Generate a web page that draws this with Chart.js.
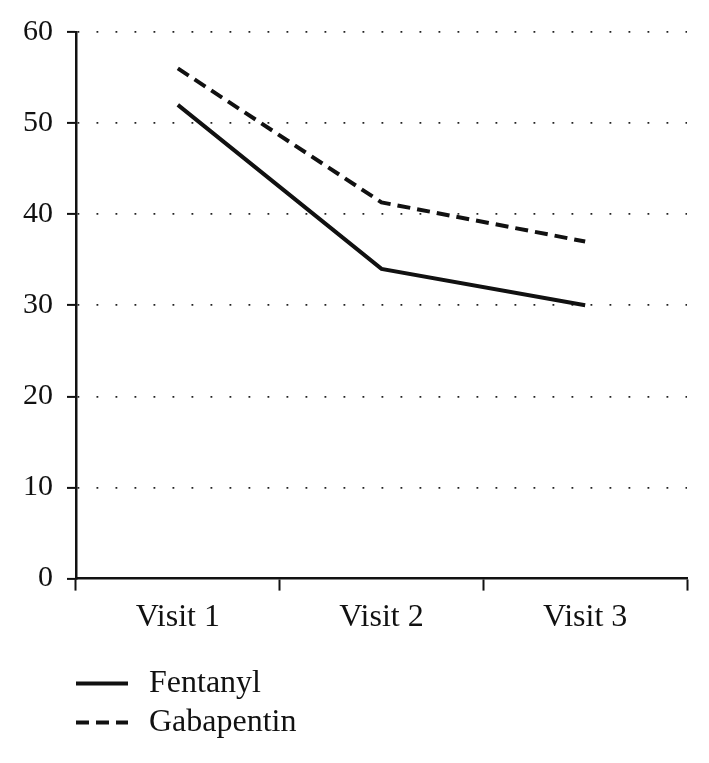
<!DOCTYPE html>
<html>
<head>
<meta charset="utf-8">
<script src="https://cdn.jsdelivr.net/npm/chart.js@4/dist/chart.umd.min.js"></script>
<style>
  body { margin: 0; background: #fff; }
  #wrap { width: 709px; height: 763px; position: relative; }
</style>
</head>
<body>
<div id="wrap"><canvas id="line-chart"></canvas></div>
<script>
const visits = ['Visit 1', 'Visit 2', 'Visit 3'];
const fentanyl = [52, 34, 30];
const gabapentin = [56, 41.3, 37];
const yTicks = [0, 10, 20, 30, 40, 50, 60];

const serif = "'Liberation Serif', 'Times New Roman', serif";

// legend drawn as stacked rows under the x axis, like the original
const stackedLegend = {
    id: 'stackedLegend',
    afterDraw(chart) {
        const ctx = chart.ctx;
        const left = chart.chartArea.left;
        let y = chart.chartArea.bottom + 105;
        ctx.save();
        chart.data.datasets.forEach(ds => {
            ctx.beginPath();
            ctx.setLineDash(ds.borderDash || []);
            ctx.lineWidth = ds.borderWidth;
            ctx.strokeStyle = ds.borderColor;
            ctx.moveTo(left, y);
            ctx.lineTo(left + 52, y);
            ctx.stroke();
            ctx.setLineDash([]);
            ctx.fillStyle = '#111';
            ctx.font = '32px ' + serif;
            ctx.textBaseline = 'middle';
            ctx.fillText(ds.label, left + 73, y);
            y += 39;
        });
        ctx.restore();
    }
};

const ctx = document.getElementById('line-chart').getContext('2d');

new Chart(ctx, {
    type: 'line',
    data: {
        labels: visits,
        datasets: [{
            label: 'Fentanyl',
            data: fentanyl,
            borderColor: '#111',
            borderWidth: 4,
            borderDash: [],
            pointRadius: 0,
            tension: 0,
            fill: false
        }, {
            label: 'Gabapentin',
            data: gabapentin,
            borderColor: '#111',
            borderWidth: 4,
            borderDash: [13, 7],
            pointRadius: 0,
            tension: 0,
            fill: false
        }]
    },
    options: {
        responsive: true,
        maintainAspectRatio: false,
        animation: false,
        layout: { padding: { left: 9, right: 22, top: 22, bottom: 118 } },
        plugins: {
            legend: { display: false },
            tooltip: { enabled: false }
        },
        scales: {
            x: {
                offset: true,
                grid: {
                    offset: true,
                    drawOnChartArea: false,
                    tickLength: 12,
                    tickColor: '#111',
                    tickWidth: 2
                },
                border: { color: '#111', width: 2.5 },
                ticks: {
                    color: '#111',
                    padding: 8,
                    font: { family: serif, size: 32 }
                }
            },
            y: {
                min: 0,
                max: 60,
                afterBuildTicks(axis) {
                    axis.ticks = yTicks.map(v => ({ value: v }));
                },
                grid: {
                    color: c => (c.tick && c.tick.value === 0) ? 'rgba(0,0,0,0)' : '#222',
                    lineWidth: 1.8,
                    tickLength: 9,
                    tickColor: '#111',
                    tickWidth: 2
                },
                border: { color: '#111', width: 2.5, dash: [1.8, 17.2] },
                ticks: {
                    color: '#111',
                    padding: 14,
                    font: { family: serif, size: 30 }
                }
            }
        }
    },
    plugins: [stackedLegend]
});
</script>
</body>
</html>
